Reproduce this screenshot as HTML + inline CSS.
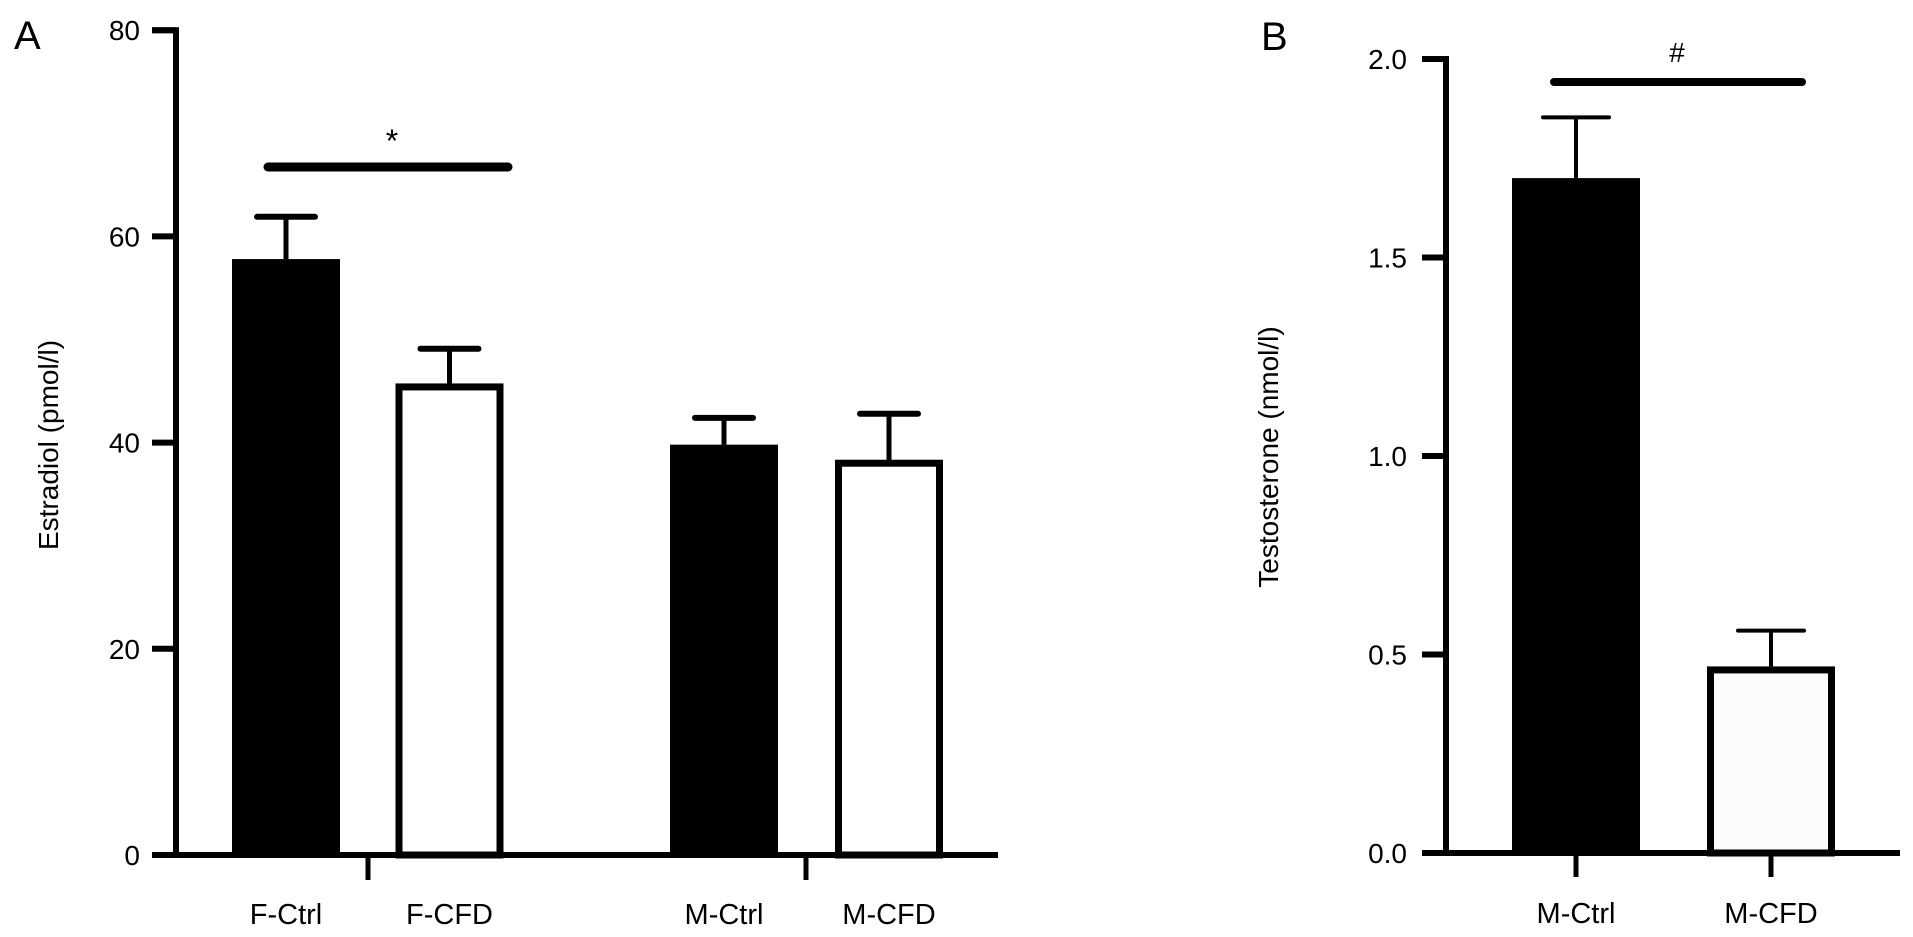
<!DOCTYPE html>
<html><head><meta charset="utf-8"><style>
html,body{margin:0;padding:0;background:#fff;}
svg{display:block;font-family:"Liberation Sans",Arial,sans-serif;}
</style></head><body>
<svg id="chart" width="1913" height="937" viewBox="0 0 1913 937">
<g id="gA"></g>
<g id="gB"></g>
</svg>
<script>
const catsA = ["F-Ctrl","F-CFD","M-Ctrl","M-CFD"];
const valsA = [57.8,45.4,39.8,38.0];
const errA = [61.9,49.1,42.4,42.8];
const ticksA = [0,20,40,60,80];
const catsB = ["M-Ctrl","M-CFD"];
const valsB = [1.70,0.47];
const errB = [1.853,0.56];
const ticksB = ["0.0","0.5","1.0","1.5","2.0"];

const NS="http://www.w3.org/2000/svg";
function mk(parent,tag,attrs,text){const e=document.createElementNS(NS,tag);for(const k in attrs)e.setAttribute(k,attrs[k]);if(text!==undefined)e.textContent=text;parent.appendChild(e);return e;}

// Panel A
const gA=document.getElementById('gA');
const yA=v=>855-v*10.31;
const cxA=[286,449.5,724,889];
const bwA=108;
let t=mk(gA,'text',{x:14,y:49,'font-size':40});t.textContent='A';


let ax=mk(gA,'path',{d:`M152 ${yA(80)} H176 V855 H998`,fill:'none',stroke:'#000','stroke-width':6});


ticksA.forEach(v=>{
  const l=mk(gA,'line',{x1:152,x2:176,y1:yA(v),y2:yA(v),stroke:'#000','stroke-width':6});
  
  
  const tx=mk(gA,'text',{x:140,y:yA(v)+10,'font-size':28,'text-anchor':'end'},String(v));
  
  
});
[368,806].forEach(x=>{const l=mk(gA,'line',{x1:x,x2:x,y1:855,y2:880,stroke:'#000','stroke-width':5});
  
  });
catsA.forEach((c,i)=>{
  const cx=cxA[i],top=yA(valsA[i]);
  const et=yA(errA[i]);
  const el=mk(gA,'line',{x1:cx,x2:cx,y1:top,y2:et,stroke:'#000','stroke-width':5});
  
  
  const cap=mk(gA,'line',{x1:cx-29,x2:cx+29,y1:et,y2:et,stroke:'#000','stroke-width':6,'stroke-linecap':'round'});
  
  
  let r;
  if(i%2===0){r=mk(gA,'rect',{x:cx-bwA/2,y:top,width:bwA,height:855-top,fill:'#000'});}
  else{r=mk(gA,'rect',{x:cx-bwA/2+3.5,y:top,width:bwA-7,height:855-top,fill:'#fff',stroke:'#000','stroke-width':7});}
  
  
  const lb=mk(gA,'text',{x:cx,y:924,'font-size':29,'text-anchor':'middle'},c);
  
  
});
let sg=mk(gA,'line',{x1:268,x2:508,y1:167,y2:167,stroke:'#000','stroke-width':9,'stroke-linecap':'round'});


let st=mk(gA,'text',{x:392,y:152,'font-size':32,'text-anchor':'middle'},'*');


let yt=mk(gA,'text',{x:0,y:0,'font-size':28,'text-anchor':'middle',transform:'translate(58,445) rotate(-90)'},'Estradiol (pmol/l)');



// Panel B
const gB=document.getElementById('gB');
const yB=v=>853-v*397;
const cxB=[1576,1771];
const bwB=128;
t=mk(gB,'text',{x:1261,y:50,'font-size':40},'B');


ax=mk(gB,'path',{d:`M1422 ${yB(2)} H1446 V853 H1900`,fill:'none',stroke:'#000','stroke-width':6});


ticksB.forEach(s=>{
  const v=parseFloat(s);
  const l=mk(gB,'line',{x1:1422,x2:1446,y1:yB(v),y2:yB(v),stroke:'#000','stroke-width':6});
  
  
  const tx=mk(gB,'text',{x:1407,y:yB(v)+10,'font-size':28,'text-anchor':'end'},s);
  
  
});
catsB.forEach((c,i)=>{
  const cx=cxB[i],top=yB(valsB[i]),et=yB(errB[i]);
  const el=mk(gB,'line',{x1:cx,x2:cx,y1:top,y2:et,stroke:'#000','stroke-width':4});
  
  
  const cap=mk(gB,'line',{x1:cx-33,x2:cx+33,y1:et,y2:et,stroke:'#000','stroke-width':4,'stroke-linecap':'round'});
  
  
  let r;
  if(i===0){r=mk(gB,'rect',{x:cx-bwB/2,y:top,width:bwB,height:853-top,fill:'#000'});}
  else{r=mk(gB,'rect',{x:cx-bwB/2+3.5,y:top+3.5,width:bwB-7,height:853-top-3.5,fill:'#fcfcfc',stroke:'#000','stroke-width':7});}
  
  
  const tk=mk(gB,'line',{x1:cx,x2:cx,y1:853,y2:877,stroke:'#000','stroke-width':5});
  
  
  const lb=mk(gB,'text',{x:cx,y:923,'font-size':29,'text-anchor':'middle'},c);
  
  
});
sg=mk(gB,'line',{x1:1554,x2:1802,y1:82,y2:82,stroke:'#000','stroke-width':8,'stroke-linecap':'round'});


st=mk(gB,'text',{x:1677,y:62,'font-size':28,'text-anchor':'middle'},'#');


yt=mk(gB,'text',{x:0,y:0,'font-size':28,'text-anchor':'middle',transform:'translate(1278,457) rotate(-90)'},'Testosterone (nmol/l)');


</script>
</body></html>
